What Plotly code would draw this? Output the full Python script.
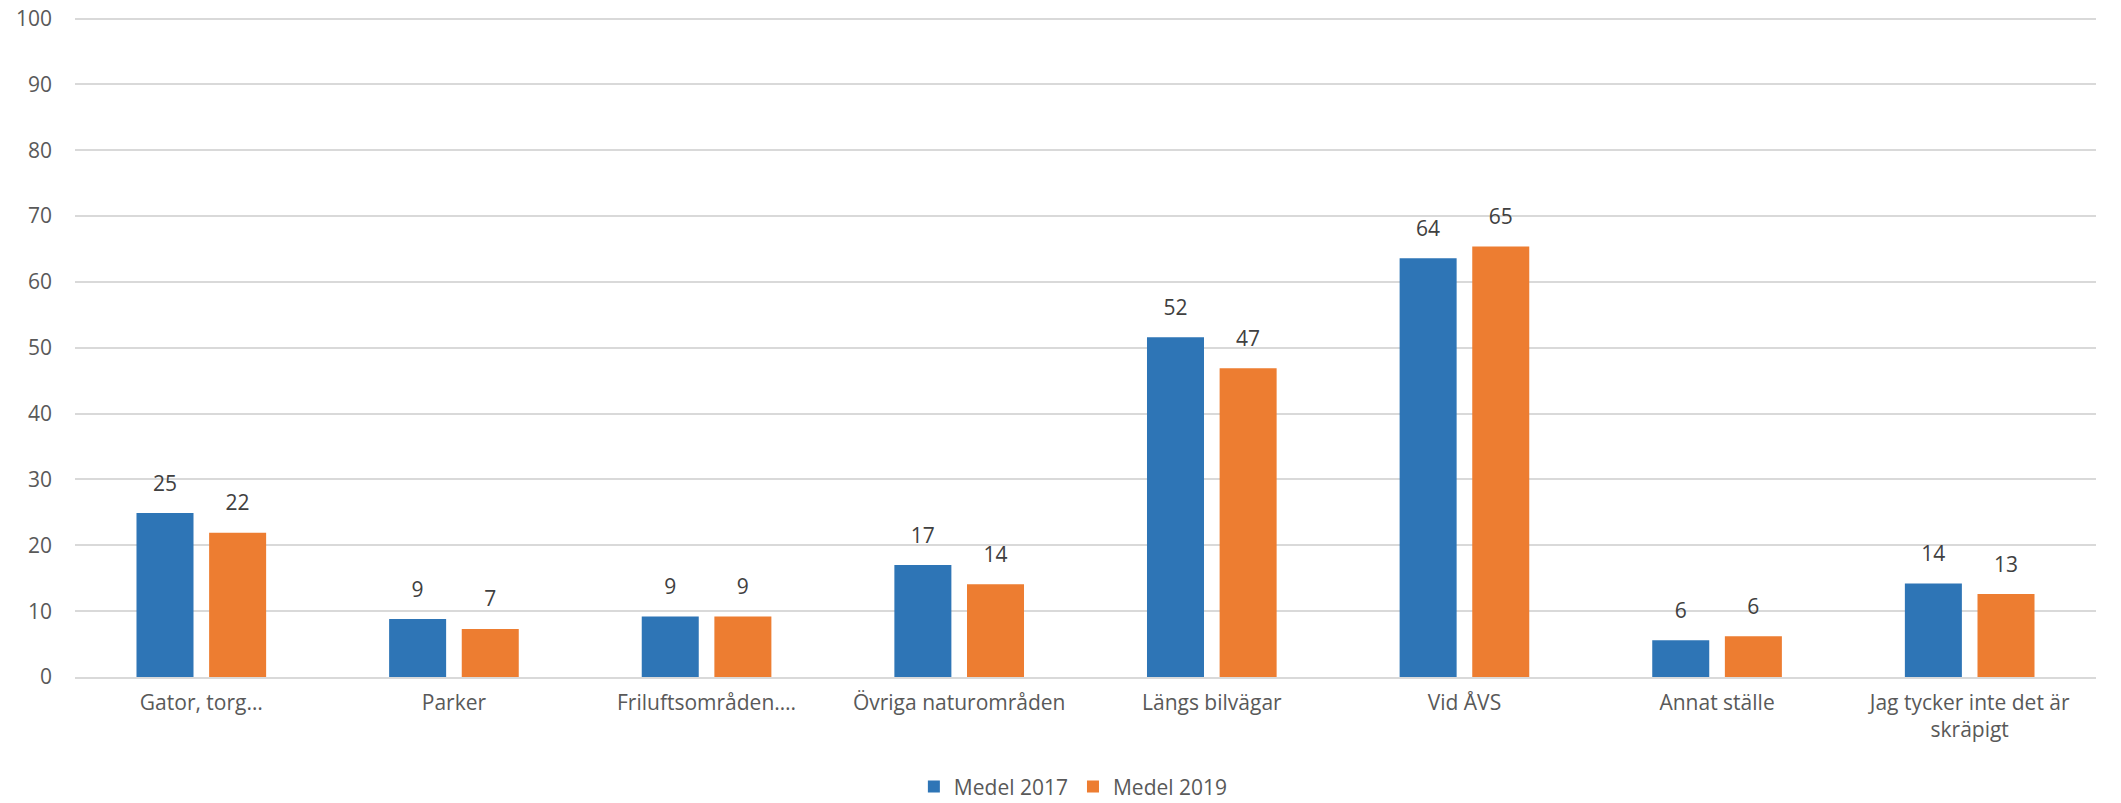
import plotly.graph_objects as go

categories = ["Gator, torg…", "Parker", "Friluftsområden….", "Övriga naturområden",
              "Längs bilvägar", "Vid ÅVS", "Annat ställe", "Jag tycker inte det är<br>skräpigt"]
medel_2017 = [24.9, 8.8, 9.2, 17.0, 51.6, 63.6, 5.6, 14.2]
medel_2019 = [21.9, 7.3, 9.2, 14.1, 46.9, 65.4, 6.2, 12.6]
series_names = ["Medel 2017", "Medel 2019"]
colors = ["#2E75B6", "#ED7D31"]
y_ticks = [0, 10, 20, 30, 40, 50, 60, 70, 80, 90, 100]

FONT = "Open Sans"
FS = 21

fig = go.Figure()
for i, (name, vals, col) in enumerate(zip(series_names, [medel_2017, medel_2019], colors)):
    fig.add_trace(go.Bar(
        x=categories, y=vals, name=name, offsetgroup=str(i), alignmentgroup="g",
        marker=dict(color=col, line=dict(width=0)),
        hoverinfo="skip",
    ))
for i, vals in enumerate([medel_2017, medel_2019]):
    fig.add_trace(go.Scatter(
        x=categories, y=vals, mode="markers+text", offsetgroup=str(i), alignmentgroup="g",
        marker=dict(size=26, opacity=0),
        text=[f"{v:.0f}" for v in vals], textposition="top center",
        textfont=dict(family=FONT, size=FS, color="#404040"),
        showlegend=False, hoverinfo="skip", cliponaxis=False,
    ))

# the page adds an 8px body margin, so the figure is 8px smaller and its margins shifted
fig.update_layout(
    width=2113, height=795,
    margin=dict(l=67, r=25, t=4.4, b=126, autoexpand=False),
    paper_bgcolor="white", plot_bgcolor="white",
    barmode="group", bargap=0.425, bargroupgap=0.215,
    scattermode="group", scattergap=0.425,
    font=dict(family=FONT, size=FS, color="#595959"),
    showlegend=True,
    legend=dict(orientation="h", x=0.494, xanchor="center", y=-0.165, yanchor="middle",
                font=dict(family=FONT, size=FS, color="#595959"),
                traceorder="normal"),
    xaxis=dict(showgrid=False, showline=True, linecolor="#D9D9D9", linewidth=1.5,
               ticks="", automargin=False, ticklabelstandoff=6,
               tickfont=dict(family=FONT, size=FS, color="#595959")),
    yaxis=dict(range=[0, 101], tickvals=y_ticks, showgrid=True, gridcolor="#D9D9D9",
               gridwidth=1.5, zeroline=False, showline=False, ticks="",
               ticklabelstandoff=22, automargin=False, ticklabeloverflow="allow",
               tickfont=dict(family=FONT, size=FS, color="#595959")),
)

fig.write_html("out.html")
